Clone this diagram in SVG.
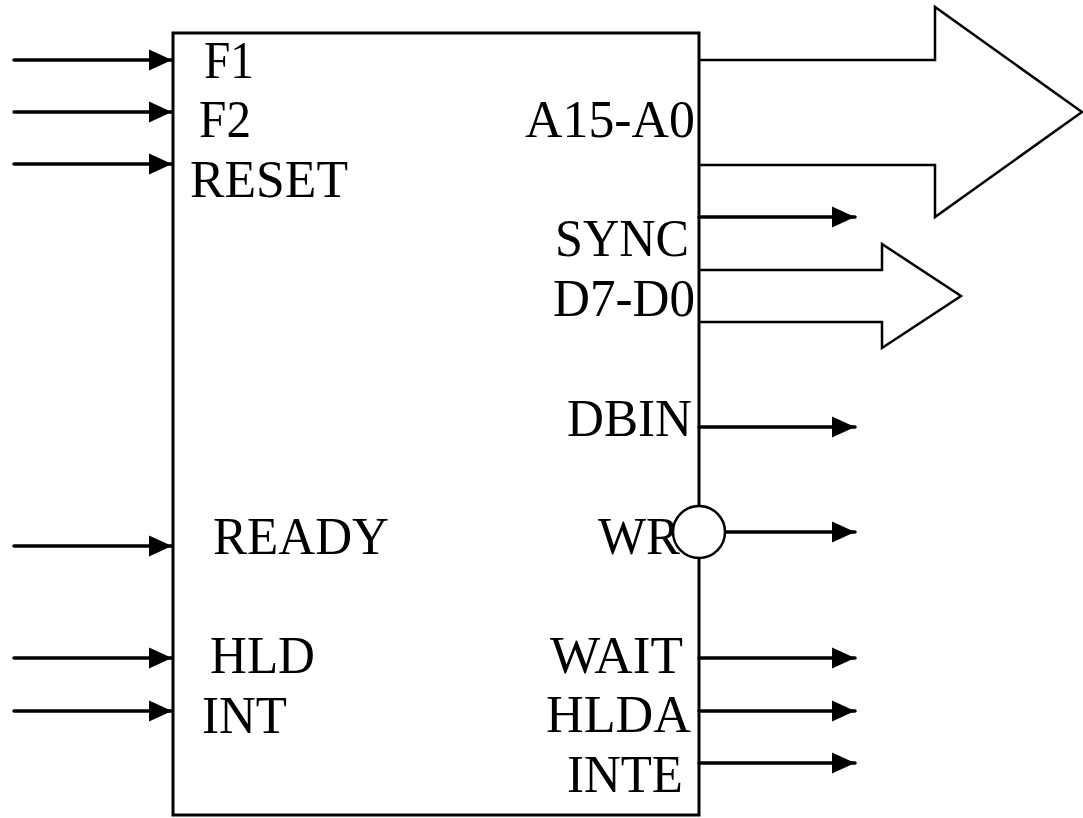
<svg xmlns="http://www.w3.org/2000/svg" width="1083" height="818" viewBox="0 0 1083 818">
<style>
text{font-family:"Liberation Serif","Times New Roman",serif;font-size:53px;fill:#000}
.l{fill:none;stroke:#000;stroke-width:3.5;stroke-linecap:round}
.o{fill:none;stroke:#000;stroke-width:2.5}
</style>
<defs><marker id="a" markerUnits="userSpaceOnUse" markerWidth="24" markerHeight="22" refX="23" refY="11" orient="auto"><path d="M0 0.5L23 11L0 21.5Z" fill="#000"/></marker></defs>
<rect width="1083" height="818" fill="#fff"/>
<g id="chip"><rect x="173" y="33" width="526" height="782" fill="#fff" stroke="#000" stroke-width="3"/></g>
<g id="connectors">
<path class="l" marker-end="url(#a)" d="M14 60H172"/>
<path class="l" marker-end="url(#a)" d="M14 112H172"/>
<path class="l" marker-end="url(#a)" d="M14 164H172"/>
<path class="l" marker-end="url(#a)" d="M14 546H172"/>
<path class="l" marker-end="url(#a)" d="M14 658H172"/>
<path class="l" marker-end="url(#a)" d="M14 711H172"/>
<path class="l" marker-end="url(#a)" d="M699 217H855"/>
<path class="l" marker-end="url(#a)" d="M699 427H855"/>
<path class="l" marker-end="url(#a)" d="M724 532H855"/>
<path class="l" marker-end="url(#a)" d="M699 658H855"/>
<path class="l" marker-end="url(#a)" d="M699 711H855"/>
<path class="l" marker-end="url(#a)" d="M699 763H855"/>
</g>
<g id="bus-a"><path class="o" d="M699 60H935V7L1082 112L935 217V165H699"/></g>
<g id="bus-d"><path class="o" d="M699 270H882V244L961 296L882 348V322H699"/></g>
<g id="labels">
<text x="204" y="78" textLength="50" lengthAdjust="spacingAndGlyphs">F1</text>
<text x="199" y="137" textLength="52" lengthAdjust="spacingAndGlyphs">F2</text>
<text x="190" y="197" textLength="158" lengthAdjust="spacingAndGlyphs">RESET</text>
<text x="213" y="554" textLength="176" lengthAdjust="spacingAndGlyphs">READY</text>
<text x="210" y="673" textLength="105" lengthAdjust="spacingAndGlyphs">HLD</text>
<text x="202" y="733" textLength="85" lengthAdjust="spacingAndGlyphs">INT</text>
<text x="525" y="137" textLength="170" lengthAdjust="spacingAndGlyphs">A15-A0</text>
<text x="555" y="256" textLength="134" lengthAdjust="spacingAndGlyphs">SYNC</text>
<text x="553" y="316" textLength="142" lengthAdjust="spacingAndGlyphs">D7-D0</text>
<text x="567" y="436" textLength="125" lengthAdjust="spacingAndGlyphs">DBIN</text>
<text x="598" y="554" textLength="82" lengthAdjust="spacingAndGlyphs">WR</text>
<text x="550" y="673" textLength="133" lengthAdjust="spacingAndGlyphs">WAIT</text>
<text x="546" y="732" textLength="145" lengthAdjust="spacingAndGlyphs">HLDA</text>
<text x="567" y="792" textLength="116" lengthAdjust="spacingAndGlyphs">INTE</text>
</g>
<g id="wr-bubble"><circle cx="699" cy="532" r="26" fill="#fff" stroke="#000" stroke-width="2.5"/></g>
</svg>
